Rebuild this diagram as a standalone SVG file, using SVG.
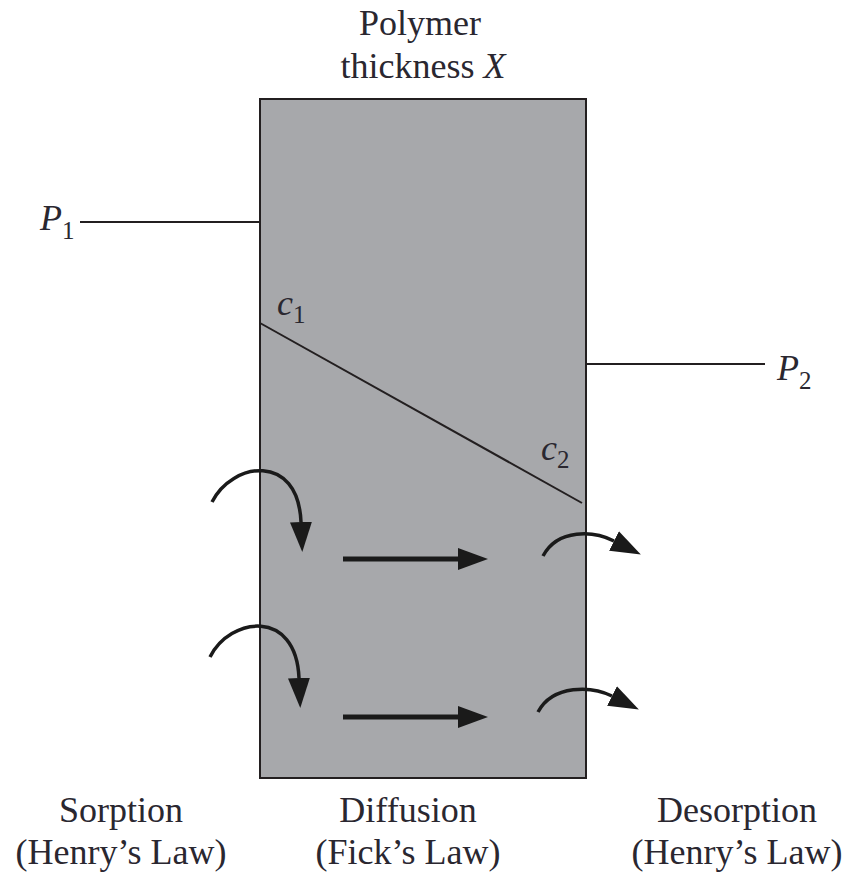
<svg xmlns="http://www.w3.org/2000/svg" width="845" height="873" viewBox="0 0 845 873">
<style>
.lbl{font-family:"Liberation Serif","DejaVu Serif",serif;font-size:36px;fill:#2a2730}
.it{font-style:italic}
.sub{font-size:25px;font-style:normal}
.ln{stroke:#231f20;stroke-width:2;fill:none}
.arr{stroke:#1a1a1a;fill:none}
</style>
<defs>
<marker id="ah" markerUnits="userSpaceOnUse" markerWidth="32" markerHeight="24" refX="0" refY="11" orient="auto" viewBox="0 0 32 24">
<path d="M0,0 L30,11 L0,22 z" fill="#1a1a1a"/>
</marker>
</defs>
<g id="polymer">
<rect x="260" y="99" width="326" height="679" fill="#a7a8ab" stroke="#231f20" stroke-width="2"/>
</g>
<g id="title">
<text class="lbl" x="420" y="35" text-anchor="middle">Polymer</text>
<text class="lbl" x="423" y="78" text-anchor="middle">thickness <tspan class="it">X</tspan></text>
</g>
<g id="p1">
<text class="lbl it" x="40" y="230">P<tspan class="sub" dy="9">1</tspan></text>
</g>
<g id="p2">
<text class="lbl it" x="777" y="380">P<tspan class="sub" dy="9">2</tspan></text>
</g>
<g id="c1">
<text class="lbl it" x="277" y="315">c<tspan class="sub" dy="8">1</tspan></text>
</g>
<g id="c2">
<text class="lbl it" x="541" y="460">c<tspan class="sub" dy="8">2</tspan></text>
</g>
<g id="connectors">
<line class="ln" x1="80" y1="222" x2="260" y2="222"/>
<line class="ln" x1="586" y1="364" x2="765" y2="364"/>
<line class="ln" x1="260" y1="323" x2="582" y2="503"/>
<path class="arr" stroke-width="3.5" d="M212,502 C232,462 298,452 301,522" marker-end="url(#ah)"/>
<path class="arr" stroke-width="3.5" d="M210,657 C230,617 296,608 299,678" marker-end="url(#ah)"/>
<path class="arr" stroke-width="5" d="M343,559 H458" marker-end="url(#ah)"/>
<path class="arr" stroke-width="5" d="M343,717 H458" marker-end="url(#ah)"/>
<path class="arr" stroke-width="3.5" d="M543,556 C558,528 594,531 614,541" marker-end="url(#ah)"/>
<path class="arr" stroke-width="3.5" d="M538,712 C553,684 592,686 612,696" marker-end="url(#ah)"/>
</g>
<g id="labels">
<text class="lbl" x="121" y="822" text-anchor="middle">Sorption</text>
<text class="lbl" x="121" y="864" text-anchor="middle">(Henry’s Law)</text>
<text class="lbl" x="408" y="822" text-anchor="middle">Diffusion</text>
<text class="lbl" x="408" y="864" text-anchor="middle">(Fick’s Law)</text>
<text class="lbl" x="737" y="822" text-anchor="middle">Desorption</text>
<text class="lbl" x="737" y="864" text-anchor="middle">(Henry’s Law)</text>
</g>
</svg>
